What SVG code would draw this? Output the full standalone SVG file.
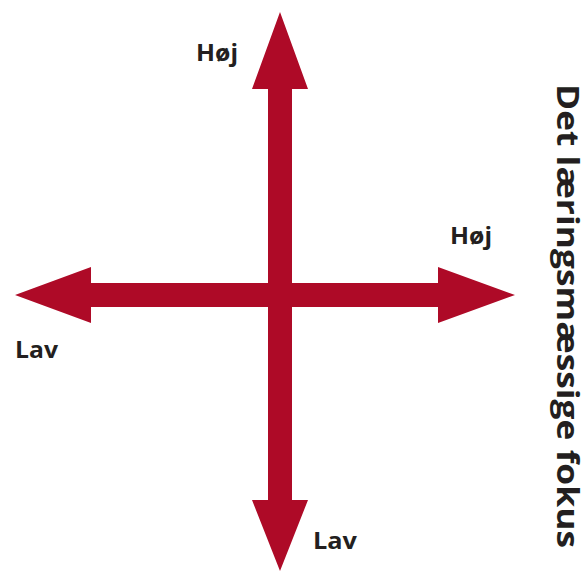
<svg xmlns="http://www.w3.org/2000/svg" width="587" height="573" viewBox="0 0 587 573">
<style>
.arrow{fill:#AE0A27;stroke:none}
.lbl{font-family:"Open Sans","DejaVu Sans",sans-serif;font-weight:700;font-size:23px;fill:#231F20}
.title{font-family:"Open Sans","DejaVu Sans",sans-serif;font-weight:700;font-size:31px;fill:#231F20}
</style>
<rect width="587" height="573" fill="#ffffff"/>
<g id="connectors">
<polygon class="arrow" points="280,12 308,89 292,89 292,500 308,500 280,571 252,500 268,500 268,89 252,89"/>
<polygon class="arrow" points="15,295 91,267 91,283 438,283 438,267 515,295 438,323 438,307 91,307 91,323"/>
</g>
<g id="label-top"><text class="lbl" x="196" y="61" textLength="42" lengthAdjust="spacingAndGlyphs">Høj</text></g>
<g id="label-right"><text class="lbl" x="450" y="244" textLength="42" lengthAdjust="spacingAndGlyphs">Høj</text></g>
<g id="label-left"><text class="lbl" x="15" y="358" textLength="43" lengthAdjust="spacingAndGlyphs">Lav</text></g>
<g id="label-bottom"><text class="lbl" x="313" y="549" textLength="44" lengthAdjust="spacingAndGlyphs">Lav</text></g>
<g id="title"><text class="title" transform="translate(557,84) rotate(90)" x="0" y="0" textLength="464" lengthAdjust="spacingAndGlyphs">Det læringsmæssige fokus</text></g>
</svg>
